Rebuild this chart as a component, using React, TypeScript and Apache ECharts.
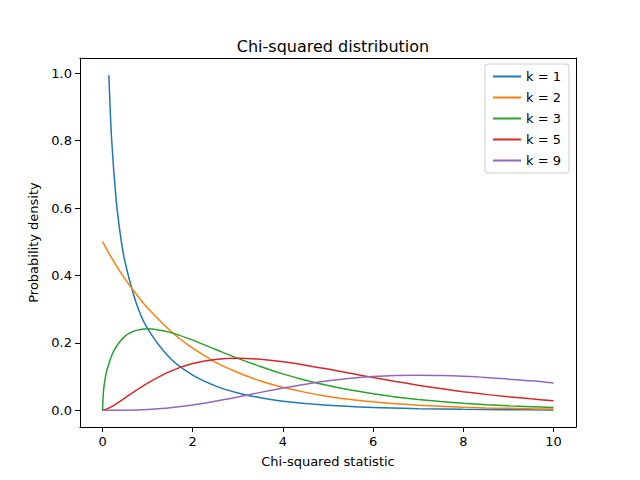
import { useRef, useEffect } from 'react';
import * as echarts from 'echarts';

const xK1 = [0.14, 0.2, 0.3, 0.4, 0.5, 0.75, 1, 1.5, 2, 2.5, 3, 3.5, 4, 5, 6, 7, 8, 9, 10];
const yK1 = [0.994, 0.807, 0.627, 0.516, 0.439, 0.317, 0.242, 0.154, 0.104, 0.0723, 0.0514, 0.0371, 0.027, 0.0146, 0.0081, 0.0046, 0.0026, 0.0015, 0.00085];

const xs = [0, 0.1, 0.25, 0.5, 0.75, 1, 1.5, 2, 2.5, 3, 3.5, 4, 4.5, 5, 5.5, 6, 6.5, 7, 7.5, 8, 8.5, 9, 9.5, 10];
const yK2 = [0.5, 0.4756, 0.441, 0.389, 0.344, 0.303, 0.236, 0.184, 0.143, 0.112, 0.087, 0.068, 0.053, 0.041, 0.032, 0.025, 0.019, 0.015, 0.012, 0.009, 0.007, 0.0056, 0.0043, 0.0034];
const xK3 = [0, 0.02, 0.05, 0.1, 0.25, 0.5, 0.75, 1, 1.5, 2, 2.5, 3, 3.5, 4, 4.5, 5, 5.5, 6, 6.5, 7, 7.5, 8, 8.5, 9, 9.5, 10];
const yK3 = [0, 0.0558, 0.087, 0.12, 0.176, 0.22, 0.237, 0.242, 0.231, 0.208, 0.181, 0.154, 0.13, 0.108, 0.0892, 0.0732, 0.0598, 0.0487, 0.0395, 0.0319, 0.0257, 0.0206, 0.0166, 0.0133, 0.0107, 0.0085];
const yK5 = [0, 0.004, 0.0147, 0.0366, 0.0594, 0.0807, 0.1154, 0.1384, 0.1506, 0.1542, 0.1513, 0.144, 0.1338, 0.1221, 0.1096, 0.0973, 0.0855, 0.0744, 0.0642, 0.0551, 0.0471, 0.0399, 0.0339, 0.0283];
const yK9 = [0, 0, 0.00002, 0.00026, 0.0009, 0.0023, 0.0074, 0.0158, 0.0269, 0.0396, 0.053, 0.0658, 0.0774, 0.0872, 0.0948, 0.1001, 0.1032, 0.1041, 0.1031, 0.1007, 0.0973, 0.0922, 0.0872, 0.0805];

const names = ['k = 1', 'k = 2', 'k = 3', 'k = 5', 'k = 9'];
const colors = ['#1f77b4', '#ff7f0e', '#2ca02c', '#d62728', '#9467bd'];
const xTicks = [0, 2, 4, 6, 8, 10];
const yTicks = [0, 0.2, 0.4, 0.6, 0.8, 1.0];

const font = 'DejaVu Sans';

export default function App() {
  const ref = useRef<HTMLDivElement>(null);

  useEffect(() => {
    if (!ref.current) return;
    const chart = echarts.init(ref.current, null, { renderer: 'svg' });
    const pairs = (x: number[], y: number[]) => x.map((v, i) => [v, y[i]]);
    const seriesData = [
      pairs(xK1, yK1),
      pairs(xs, yK2),
      pairs(xK3, yK3),
      pairs(xs, yK5),
      pairs(xs, yK9),
    ];
    const axisCommon = {
      axisLine: { show: true, onZero: false, lineStyle: { color: '#000', width: 1 } },
      axisTick: { show: true, inside: false, length: 5, lineStyle: { color: '#000' } },
      splitLine: { show: false },
    };
    chart.setOption({
      animation: false,
      backgroundColor: '#fff',
      title: {
        text: 'Chi-squared distribution',
        left: 328,
        top: 33,
        textAlign: 'center',
        textStyle: { fontFamily: font, fontSize: 16, fontWeight: 'normal', color: '#000' },
      },
      legend: {
        orient: 'vertical',
        right: 71,
        top: 64,
        backgroundColor: '#fff',
        borderColor: '#ccc',
        borderWidth: 1,
        borderRadius: 3,
        padding: [6, 8, 6, 8],
        itemGap: 8,
        itemWidth: 28,
        itemHeight: 2,
        icon: 'rect',
        textStyle: { fontFamily: font, fontSize: 13, color: '#000' },
        data: names,
      },
      grid: { left: 80, right: 64, top: 58, bottom: 53 },
      xAxis: [
        {
          type: 'value',
          min: -0.5,
          max: 10.5,
          name: 'Chi-squared statistic',
          nameLocation: 'middle',
          nameGap: 28,
          nameTextStyle: { fontFamily: font, fontSize: 13, color: '#000' },
          ...axisCommon,
          axisTick: { ...axisCommon.axisTick, customValues: xTicks },
          axisLabel: { customValues: xTicks, fontFamily: font, fontSize: 13, color: '#000' },
        },
        {
          type: 'value', position: 'top', min: -0.5, max: 10.5,
          axisLine: axisCommon.axisLine, axisTick: { show: false }, axisLabel: { show: false }, splitLine: { show: false },
        },
      ],
      yAxis: [
        {
          type: 'value',
          min: -0.0497,
          max: 1.045,
          name: 'Probability density',
          nameLocation: 'middle',
          nameGap: 40,
          nameTextStyle: { fontFamily: font, fontSize: 13, color: '#000' },
          ...axisCommon,
          axisTick: { ...axisCommon.axisTick, customValues: yTicks },
          axisLabel: {
            customValues: yTicks,
            fontFamily: font,
            fontSize: 13,
            color: '#000',
            formatter: (v: number) => v.toFixed(1),
          },
        },
        {
          type: 'value', position: 'right', min: -0.0497, max: 1.045,
          axisLine: axisCommon.axisLine, axisTick: { show: false }, axisLabel: { show: false }, splitLine: { show: false },
        },
      ],
      series: names.map((n, i) => ({
        name: n,
        type: 'line',
        data: seriesData[i],
        smooth: 0.3,
        showSymbol: false,
        symbol: 'none',
        color: colors[i],
        lineStyle: { width: 1.5, color: colors[i] },
      })),
    });
    return () => chart.dispose();
  }, []);

  return <div ref={ref} style={{ width: 640, height: 480, margin: -8 }} />;
}
